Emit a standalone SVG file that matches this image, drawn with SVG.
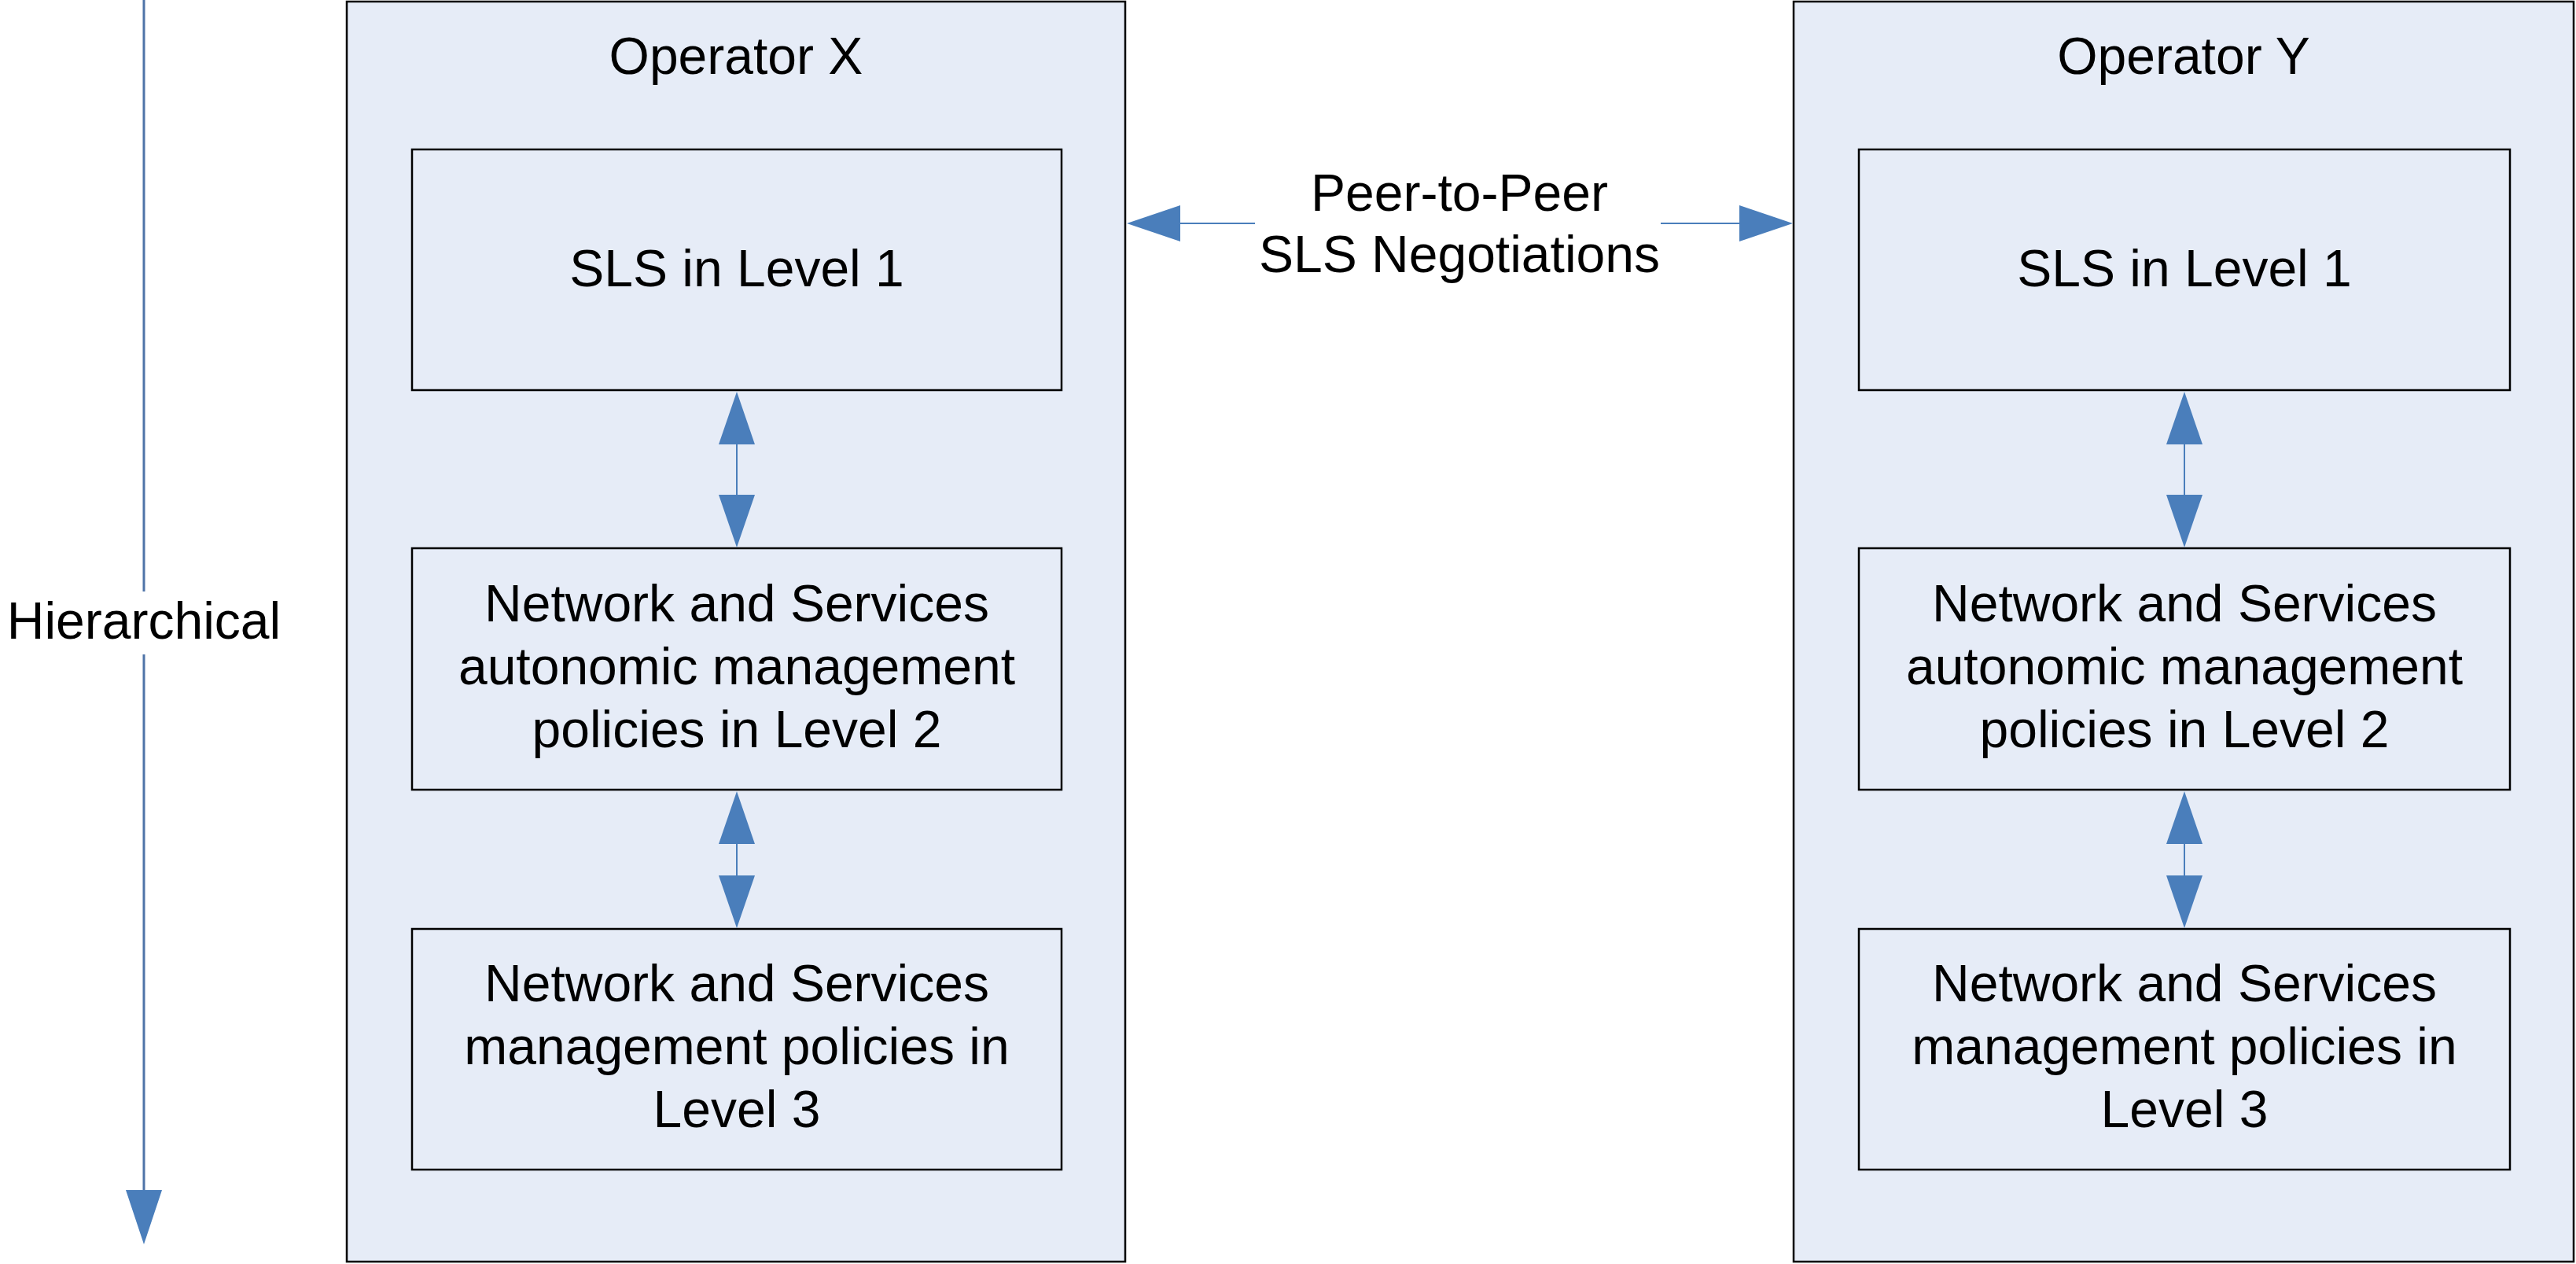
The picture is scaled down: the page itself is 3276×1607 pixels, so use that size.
<svg xmlns="http://www.w3.org/2000/svg" width="3276" height="1607" viewBox="0 0 3276 1607">
<style>
.outer{fill:#e6ecf7;stroke:#000;stroke-width:2.5}
.inner{fill:#e6ecf7;stroke:#000;stroke-width:2.5}
.t{font-family:"Liberation Sans",Arial,sans-serif;font-size:66px;fill:#000;text-anchor:middle}
.ln{stroke:#4a7ebb;stroke-width:2;fill:none}
.hd{fill:#4a7ebb}
</style>
<rect width="3276" height="1607" fill="#fff"/>
<g id="operator-x">
<rect class="outer" x="441" y="2" width="990" height="1602"/>
<text class="t" x="936" y="94">Operator X</text>
</g>
<g id="operator-y">
<rect class="outer" x="2281" y="2" width="992" height="1602"/>
<text class="t" x="2777" y="94">Operator Y</text>
</g>
<g id="x-level1">
<rect class="inner" x="524" y="190" width="826" height="306"/>
<text class="t" x="937" y="364">SLS in Level 1</text>
</g>
<g id="x-level2">
<rect class="inner" x="524" y="697" width="826" height="307"/>
<text class="t" x="937" y="790">Network and Services</text>
<text class="t" x="937" y="870">autonomic management</text>
<text class="t" x="937" y="950">policies in Level 2</text>
</g>
<g id="x-level3">
<rect class="inner" x="524" y="1181" width="826" height="306"/>
<text class="t" x="937" y="1273">Network and Services</text>
<text class="t" x="937" y="1353">management policies in</text>
<text class="t" x="937" y="1433">Level 3</text>
</g>
<g id="y-level1">
<rect class="inner" x="2364" y="190" width="828" height="306"/>
<text class="t" x="2778" y="364">SLS in Level 1</text>
</g>
<g id="y-level2">
<rect class="inner" x="2364" y="697" width="828" height="307"/>
<text class="t" x="2778" y="790">Network and Services</text>
<text class="t" x="2778" y="870">autonomic management</text>
<text class="t" x="2778" y="950">policies in Level 2</text>
</g>
<g id="y-level3">
<rect class="inner" x="2364" y="1181" width="828" height="306"/>
<text class="t" x="2778" y="1273">Network and Services</text>
<text class="t" x="2778" y="1353">management policies in</text>
<text class="t" x="2778" y="1433">Level 3</text>
</g>
<g id="hierarchical-label">
<text class="t" x="183" y="812">Hierarchical</text>
</g>
<g id="peer-label">
<text class="t" x="1856" y="268">Peer-to-Peer</text>
<text class="t" x="1856" y="346">SLS Negotiations</text>
</g>
<g id="connectors">
<line x1="183" y1="0" x2="183" y2="752" stroke="#4f74a8" stroke-width="3"/>
<line x1="183" y1="832" x2="183" y2="1515" stroke="#4f74a8" stroke-width="3"/>
<polygon class="hd" points="160,1513 206,1513 183,1582"/>
<line class="ln" x1="1500" y1="284" x2="1596" y2="284"/>
<line class="ln" x1="2112" y1="284" x2="2213" y2="284"/>
<polygon class="hd" points="1433,284 1501,261 1501,307"/>
<polygon class="hd" points="2280,284 2212,261 2212,307"/>
<line class="ln" x1="937" y1="564" x2="937" y2="630"/>
<polygon class="hd" points="937,498 914,565 960,565"/>
<polygon class="hd" points="937,696 914,629 960,629"/>
<line class="ln" x1="937" y1="1072" x2="937" y2="1114"/>
<polygon class="hd" points="937,1006 914,1073 960,1073"/>
<polygon class="hd" points="937,1180 914,1113 960,1113"/>
<line class="ln" x1="2778" y1="564" x2="2778" y2="630"/>
<polygon class="hd" points="2778,498 2755,565 2801,565"/>
<polygon class="hd" points="2778,696 2755,629 2801,629"/>
<line class="ln" x1="2778" y1="1072" x2="2778" y2="1114"/>
<polygon class="hd" points="2778,1006 2755,1073 2801,1073"/>
<polygon class="hd" points="2778,1180 2755,1113 2801,1113"/>
</g>
</svg>
